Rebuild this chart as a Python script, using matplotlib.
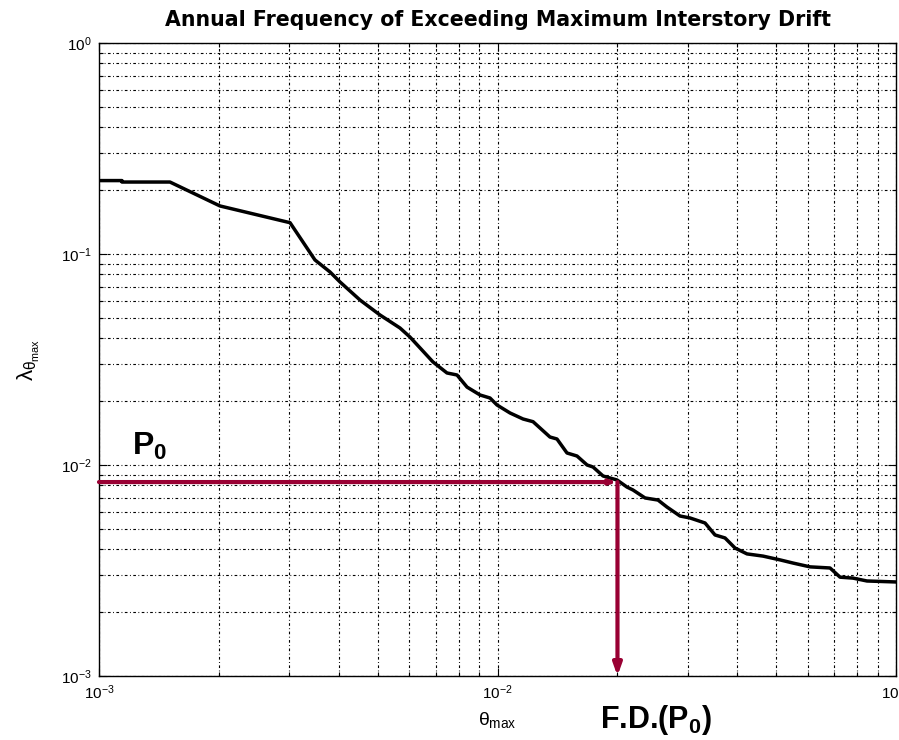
import numpy as np
import matplotlib
matplotlib.use("Agg")
import matplotlib.pyplot as plt

# drift hazard curve: max interstory drift vs annual frequency of exceedance
theta_max = [0.001, 0.001142, 0.001142, 0.001507, 0.002012, 0.003016, 0.003483, 0.003799,
             0.004025, 0.004519, 0.005071, 0.005692, 0.006031, 0.006886, 0.007468, 0.007914,
             0.008386, 0.009040, 0.009576, 0.00997, 0.01075, 0.01159, 0.01228, 0.01354,
             0.01410, 0.01494, 0.01583, 0.01678, 0.01737, 0.01840, 0.01995, 0.02113,
             0.02188, 0.02345, 0.02528, 0.02662, 0.02871, 0.03041, 0.03317, 0.03514,
             0.03723, 0.03945, 0.04227, 0.04637, 0.05116, 0.05514, 0.06083, 0.06830,
             0.07236, 0.07799, 0.08455, 0.1]
lam = [0.2228, 0.2228, 0.2193, 0.2193, 0.1689, 0.1407, 0.0937, 0.0822,
       0.0737, 0.0605, 0.0514, 0.0446, 0.0404, 0.0308, 0.0273, 0.0267,
       0.0234, 0.02147, 0.02077, 0.01925, 0.01764, 0.01652, 0.01604, 0.01357,
       0.01328, 0.01140, 0.01103, 0.0100, 0.00978, 0.00887, 0.00849, 0.00786,
       0.00761, 0.00698, 0.00682, 0.00632, 0.00573, 0.00561, 0.00531, 0.00466,
       0.00451, 0.00404, 0.00379, 0.00370, 0.00355, 0.00343, 0.00329, 0.00325,
       0.00294, 0.00291, 0.00282, 0.00279]

P0 = 0.0083   # target annual frequency
FD = 0.02     # drift at P0
XLIM = (1e-3, 1e-1)
YLIM = (1e-3, 1e0)

RED = "#990033"

plt.rcParams["font.family"] = ["Liberation Sans", "DejaVu Sans"]
plt.rcParams["mathtext.fontset"] = "custom"
plt.rcParams["mathtext.rm"] = "Liberation Sans"
plt.rcParams["mathtext.it"] = "Liberation Sans"
plt.rcParams["mathtext.bf"] = "Liberation Sans:bold"

fig = plt.figure(figsize=(8.99, 7.40), dpi=100)
ax = fig.add_axes([0.1101, 0.0865, 0.8866, 0.8554])
ax.set_xscale("log")
ax.set_yscale("log")
ax.set_xlim(*XLIM)
ax.set_ylim(*YLIM)

grid_ls = (0, (2.4, 2.2, 0.8, 2.2))
ax.grid(True, which="both", color="k", linestyle=grid_ls, linewidth=0.8)
ax.set_axisbelow(True)

ax.plot(theta_max, lam, color="k", lw=2.5, zorder=3)

# P0 -> F.D.(P0) read-off arrows
ax.annotate("", xy=(FD, P0), xytext=(XLIM[0], P0), annotation_clip=False,
            arrowprops=dict(arrowstyle="-|>,head_length=0.35,head_width=0.12",
                            color=RED, lw=3, shrinkA=0, shrinkB=0), zorder=4)
ax.annotate("", xy=(FD, YLIM[0]), xytext=(FD, P0), annotation_clip=False,
            arrowprops=dict(arrowstyle="-|>,head_length=0.7,head_width=0.25",
                            color=RED, lw=3, shrinkA=0, shrinkB=0), zorder=4)

ax.text(0.0414, 0.349, r"$\mathbf{P_0}$", transform=ax.transAxes,
        fontsize=23, ha="left", va="baseline")
ax.text(0.6286, -0.0821, r"F.D.($\mathbf{P_0}$)", transform=ax.transAxes,
        fontsize=22, fontweight="bold", ha="left", va="baseline")

ax.tick_params(which="both", direction="in", top=True, right=True, width=0.8, labelsize=11)
ax.tick_params(which="major", length=6, pad=5)
ax.tick_params(which="minor", length=3)
for s in ax.spines.values():
    s.set_linewidth(1.0)

ax.set_title("Annual Frequency of Exceeding Maximum Interstory Drift",
             fontsize=14.8, fontweight="bold", family="DejaVu Sans", pad=12)
ax.set_xlabel(r"$\theta_{\max}$", fontsize=14, labelpad=6)
ax.set_ylabel(r"$\lambda_{\theta_{\max}}$", fontsize=16, labelpad=14)

fig.savefig("out.png", dpi=100)
